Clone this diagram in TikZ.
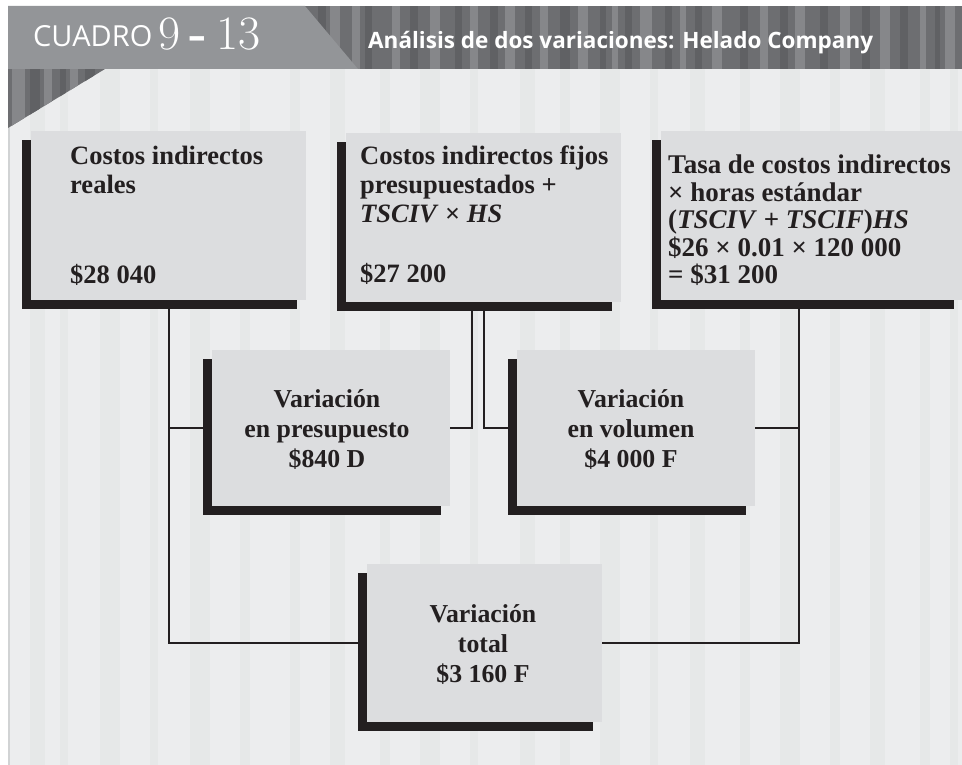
\documentclass[tikz,border=0pt]{standalone}
\usepackage{fontspec}
\newfontfamily\gar{Liberation Serif}
\newfontfamily\hdsans{Open Sans}
\usetikzlibrary{shadows}
\definecolor{boxgray}{HTML}{DCDDDF}
\definecolor{shadowc}{HTML}{231F20}
\definecolor{linec}{HTML}{231F20}
\definecolor{bodybg}{HTML}{ECEDEE}
\definecolor{bodystripe}{HTML}{E6E8E8}
\definecolor{headbase}{HTML}{6D6E71}
\definecolor{headlight}{HTML}{86878A}
\definecolor{headdark}{HTML}{606164}
\definecolor{tabc}{HTML}{939598}
\definecolor{leftb}{HTML}{D1D3D4}
\begin{document}
\begin{tikzpicture}[x=1pt,y=-1pt,
  box/.style={fill=boxgray, inner sep=0pt, outer sep=0pt, anchor=north west,
    general shadow={fill=shadowc, shadow xshift=-9pt, shadow yshift=-9pt}},
  conn/.style={draw=linec, line width=2pt},
  tl/.style={inner sep=0pt, anchor=base west, text=shadowc, font=\gar\bfseries\fontsize{26.5}{29}\selectfont},
  tc/.style={inner sep=0pt, anchor=base, text=shadowc, font=\gar\bfseries\fontsize{25.8}{30}\selectfont}]
\useasboundingbox (0,0) rectangle (962,765);
% body background
\fill[bodybg] (8,69) rectangle (962,765);
\foreach \a/\b in {30/45,60/68,100/120,150/158,190/210,240/250,290/300,330/345,380/390,420/440,470/478,520/535,560/570,600/620,650/658,690/705,740/750,780/800,830/840,870/885,920/930,950/958}
  \fill[bodystripe] (\a,69) rectangle (\b,765);
\draw[leftb, line width=1.5pt] (8.75,69) -- (8.75,765);
% header
\begin{scope}
\clip (8,6) -- (962,6) -- (962,69) -- (105,69) -- (8,128) -- cycle;
\fill[headbase] (8,6) rectangle (962,128);
\foreach \a/\b in {12/25,44/52,70/78,330/340,352/360,392/400,430/440,470/478,505/515,540/548,578/588,612/618,640/652,680/686,712/722,760/768,795/805,840/850,880/890,920/926,945/955}
  \fill[headlight] (\a,6) rectangle (\b,128);
\foreach \a/\b in {30/40,60/66,85/95,318/326,365/372,410/418,455/462,490/498,525/532,560/570,600/606,625/632,665/672,695/702,740/748,780/788,820/828,862/870,900/908,935/940}
  \fill[headdark] (\a,6) rectangle (\b,128);
\end{scope}
\fill[tabc] (8,6) -- (305,6) -- (358,69) -- (8,69) -- cycle;
\node[inner sep=0pt, anchor=base west, text=white, font=\hdsans\fontsize{29}{32}\selectfont] (cuadro) at (33,47) {CUADRO};
\node[inner sep=0pt, anchor=base west, text=white, font=\rmfamily\fontsize{48}{50}\selectfont] (num) at (158,50) {9\kern9pt{\bfseries -}\kern9pt13};
\node[inner sep=0pt, anchor=base west, text=white, font=\hdsans\bfseries\fontsize{22.5}{26}\selectfont] (title) at (368,49) {Análisis de dos variaciones: Helado Company};
% boxes
\node[box, minimum width=275pt, minimum height=169pt] (b1) at (31,131) {};
\node[box, minimum width=275pt, minimum height=169pt] (b2) at (346,133) {};
\node[box, minimum width=302pt, minimum height=169pt] (b3) at (661,131) {};
\node[box, minimum width=238pt, minimum height=156pt] (b4) at (212,350) {};
\node[box, minimum width=238pt, minimum height=156pt] (b5) at (517,350) {};
\node[box, minimum width=235pt, minimum height=158pt] (b6) at (367,564) {};
% connectors
\coordinate (j2) at ([xshift=-12pt]b2.south);
\coordinate (j3) at ([xshift=-13.5pt]b3.south);
\draw[conn] (b1.south) |- (b6.west);
\draw[conn] (b1.south |- b4.west) -- (b4.west);
\draw[conn] (b4.east) -| (j2);
\draw[conn] (b2.south) |- (b5.west);
\draw[conn] (b5.east) -| (j3);
\draw[conn] (j3) |- (b6.east);
% texts
\node[tl] (t1) at (70,165) {\parbox[t]{260pt}{\raggedright Costos indirectos\\reales}};
\node[tl] (t1v) at (70,283) {\$28 040};
\node[tl] (t2) at (360,165) {\parbox[t]{260pt}{\raggedright Costos indirectos fijos\\presupuestados +\\\textit{TSCIV} × \textit{HS}}};
\node[tl] (t2v) at (360,282) {\$27 200};
\node[tl, font=\gar\bfseries\fontsize{27}{27.5}\selectfont] (t3) at (668,174) {\parbox[t]{294pt}{\raggedright Tasa de costos indirectos\\× horas estándar\\(\textit{TSCIV} + \textit{TSCIF})\textit{HS}\\\$26 × 0.01 × 120 000\\= \$31 200}};
\node[tc] (t4) at (327,407) {\parbox[t]{230pt}{\centering Variación\\en presupuesto\\\$840 D}};
\node[tc] (t5) at (631,407) {\parbox[t]{230pt}{\centering Variación\\en volumen\\\$4 000 F}};
\node[tc] (t6) at (483,622) {\parbox[t]{230pt}{\centering Variación\\total\\\$3 160 F}};
\end{tikzpicture}
\end{document}
